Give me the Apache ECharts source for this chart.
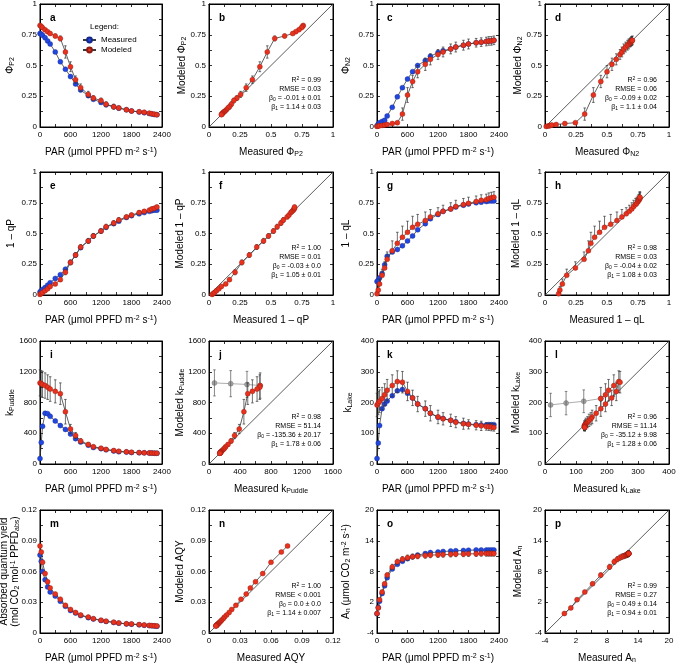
<!DOCTYPE html>
<html><head><meta charset="utf-8">
<script src="https://cdn.jsdelivr.net/npm/echarts@6/dist/echarts.min.js"></script>
<style>html,body{margin:0;padding:0;background:#fff}#c{width:676px;height:666px}</style>
</head><body><div id="c"></div>
<script>
// ---------------- DATA ----------------
const PAR = [0, 25, 50, 100, 150, 200, 300, 400, 500, 600, 700, 800, 950, 1050, 1200, 1300, 1450, 1550, 1700, 1800, 1950, 2050, 2150, 2200, 2250, 2300];

const phiP2Meas = [0.76,0.755,0.745,0.725,0.70,0.675,0.61,0.53,0.47,0.41,0.35,0.30,0.255,0.225,0.20,0.18,0.165,0.153,0.14,0.13,0.122,0.116,0.11,0.106,0.102,0.10];
const phiP2Mod  = [0.826,0.818,0.807,0.79,0.775,0.76,0.74,0.72,0.61,0.49,0.385,0.32,0.265,0.235,0.215,0.185,0.165,0.155,0.14,0.13,0.124,0.12,0.112,0.108,0.104,0.10];
const phiP2Err  = [0.01,0.01,0.01,0.01,0.01,0.01,0.015,0.02,0.05,0.04,0.03,0.03,0.025,0.02,0.02,0.02,0.02,0.015,0.01,0.01,0.01,0.01,0.01,0.008,0.008,0.008];

const phiN2Meas = [0.01,0.025,0.035,0.045,0.055,0.09,0.16,0.245,0.32,0.39,0.45,0.50,0.54,0.575,0.605,0.62,0.635,0.65,0.665,0.675,0.685,0.69,0.695,0.70,0.70,0.705];
const phiN2Mod  = [0.005,0.008,0.01,0.013,0.016,0.02,0.028,0.035,0.105,0.26,0.37,0.45,0.51,0.55,0.59,0.61,0.635,0.65,0.665,0.675,0.685,0.69,0.695,0.70,0.70,0.705];
const phiN2Err  = [0.005,0.005,0.005,0.005,0.005,0.005,0.008,0.01,0.05,0.06,0.05,0.05,0.05,0.045,0.04,0.04,0.04,0.04,0.04,0.04,0.035,0.035,0.035,0.035,0.035,0.035];

const qPMeas = [0.025,0.035,0.045,0.06,0.08,0.10,0.135,0.165,0.21,0.265,0.325,0.385,0.44,0.48,0.52,0.55,0.58,0.60,0.63,0.645,0.66,0.67,0.68,0.685,0.69,0.69];
const qPMod  = [0.005,0.012,0.02,0.035,0.05,0.07,0.09,0.125,0.185,0.265,0.325,0.39,0.44,0.48,0.52,0.555,0.585,0.61,0.635,0.65,0.67,0.68,0.69,0.70,0.705,0.715];
const qPErr  = [0.005,0.005,0.005,0.008,0.01,0.01,0.012,0.015,0.02,0.02,0.02,0.02,0.02,0.02,0.02,0.02,0.02,0.02,0.015,0.015,0.015,0.015,0.015,0.015,0.015,0.015];

const qLMeas = [0.11,0.12,0.14,0.175,0.245,0.315,0.35,0.37,0.40,0.44,0.48,0.53,0.58,0.62,0.655,0.68,0.70,0.715,0.73,0.74,0.75,0.755,0.76,0.765,0.765,0.765];
const qLMod  = [0.01,0.04,0.09,0.16,0.22,0.29,0.36,0.42,0.47,0.51,0.55,0.575,0.605,0.635,0.66,0.68,0.70,0.72,0.735,0.745,0.76,0.77,0.775,0.785,0.79,0.795];
const qLErrUp   = [0.02,0.03,0.04,0.05,0.05,0.06,0.08,0.09,0.09,0.09,0.09,0.08,0.07,0.06,0.05,0.05,0.05,0.05,0.05,0.05,0.045,0.045,0.045,0.045,0.045,0.045];
const qLErrDown = [0,0,0,0,0,0,0,0,0,0,0,0,0,0,0,0,0,0,0,0,0,0,0,0,0,0];

const kPuddleMeas = [70,280,490,660,655,620,560,500,450,390,330,285,245,215,200,185,170,160,155,150,147,145,143,142,141,140];
const kPuddleMod  = [1055,1045,1035,1020,1000,975,945,915,680,455,370,300,255,225,205,190,175,165,158,152,148,145,143,142,141,140];
const kPuddleErr  = [170,170,170,165,160,160,150,140,160,60,40,30,25,20,18,15,15,12,12,10,10,10,10,10,10,10];

const kLakeMeas = [18,68,125,180,195,205,222,238,242,230,215,195,180,165,152,148,142,137,132,130,128,127,127,128,128,128];
const kLakeMod  = [192,198,204,213,225,240,255,268,266,236,215,195,180,165,153,147,142,136,131,129,126,124,122,121,120,119];
const kLakeErr  = [38,38,37,36,36,35,35,35,35,30,25,25,25,25,22,20,20,18,18,15,15,15,12,12,12,12];

const aqyMeas = [0.076,0.070,0.060,0.052,0.045,0.040,0.036,0.031,0.026,0.022,0.0195,0.017,0.015,0.0137,0.0122,0.0113,0.0103,0.0096,0.0089,0.0086,0.008,0.0076,0.0072,0.007,0.0068,0.0066];
const aqyMod  = [0.085,0.079,0.069,0.058,0.050,0.044,0.038,0.033,0.027,0.023,0.020,0.0175,0.0155,0.014,0.0125,0.0115,0.0105,0.0098,0.009,0.0088,0.0082,0.0078,0.0074,0.0072,0.007,0.0068];
const aqyErr  = [0.0008,0.0008,0.0008,0.0006,0.0006,0.0005,0.0005,0.0005,0.0005,0.0004,0.0004,0.0004,0.0003,0.0003,0.0003,0.0003,0.0003,0.0003,0.0003,0.0003,0.0003,0.0003,0.0003,0.0003,0.0003,0.0003];

const anMeas = [-0.25,1.0,2.2,3.7,5.2,6.8,8.5,9.4,10.0,10.5,10.9,11.2,11.5,11.7,11.8,11.9,12.0,12.05,12.1,12.15,12.2,12.2,12.2,12.2,12.2,12.2];
const anMod  = [-0.2,0.9,2.5,4.0,5.6,7.3,8.9,9.9,10.4,10.7,10.9,11.0,11.1,11.2,11.25,11.3,11.35,11.4,11.4,11.45,11.45,11.5,11.5,11.5,11.5,11.5];
const anErr  = [0.3,0.3,0.3,0.3,0.3,0.4,0.5,0.5,0.5,0.5,0.5,0.5,0.5,0.5,0.5,0.5,0.5,0.5,0.5,0.5,0.5,0.5,0.5,0.5,0.5,0.5];

// tick labels
const parTicks = [0, 600, 1200, 1800, 2400];
const unitTicks = [0, 0.25, 0.5, 0.75, 1];
const kPuddleTicks = [0, 400, 800, 1200, 1600];
const kLakeTicks = [0, 100, 200, 300, 400];
const aqyTicks = [0, 0.03, 0.06, 0.09, 0.12];
const anTicks = [-4, 2, 8, 14, 20];

// regression statistics [R2, RMSE, beta0, beta1]
const statsPhiP2   = ['0.99', '= 0.03', '-0.01 ± 0.01', '1.14 ± 0.03'];
const statsPhiN2   = ['0.96', '= 0.06', '-0.09 ± 0.02', '1.1 ± 0.04'];
const statsQP      = ['1.00', '= 0.01', '-0.03 ± 0.0', '1.05 ± 0.01'];
const statsQL      = ['0.98', '= 0.03', '-0.04 ± 0.02', '1.08 ± 0.03'];
const statsKPuddle = ['0.98', '= 51.14', '-135.36 ± 20.17', '1.78 ± 0.06'];
const statsKLake   = ['0.96', '= 11.14', '-35.12 ± 9.98', '1.28 ± 0.06'];
const statsAQY     = ['1.00', '< 0.001', '0.0 ± 0.0', '1.14 ± 0.007'];
const statsAn      = ['0.99', '= 0.27', '0.49 ± 0.14', '0.94 ± 0.01'];

const panelLetters = ['a','b','c','d','e','f','g','h','i','j','k','l','m','n','o','p'];

// ---------------- STYLE / LAYOUT ----------------
const FF = 'Liberation Sans, Arial, Helvetica, sans-serif';
const BLUE = '#2247e0', BLUE_D = '#14288c';
const RED = '#e8321e', RED_D = '#8c1a10';
const GRAY = '#a3a3a3', GRAY_D = '#6e6e6e';
const LINE = '#3a3a3a';
const colLeft = [40, 209, 377, 545];
const colWidth = [122, 124, 122, 124];
const rowTop = [4, 172, 341, 510];
const plotH = 123;

function richOpt(fs, sfs, lh, key) {
  const base = {fontFamily: FF};
  base[key] = '#000';
  return {
    t: Object.assign({fontSize: fs, lineHeight: lh, verticalAlign: 'middle'}, base),
    s: Object.assign({fontSize: sfs, lineHeight: Math.round(sfs * 0.7), verticalAlign: 'bottom'}, base),
    p: Object.assign({fontSize: sfs, lineHeight: Math.round(sfs * 0.7), verticalAlign: 'top'}, base)
  };
}
const RICH10 = richOpt(10, 7, 11, 'color');
const RICHG7 = richOpt(7, 5, 9, 'fill');

const PAR_NAME = '{t|PAR (μmol PPFD m}{p|-2}{t| s}{p|-1}{t|)}';

const VARS = [
  {meas: phiP2Meas, mod: phiP2Mod, up: phiP2Err, dn: phiP2Err, ticks: unitTicks, sym: '{t|Φ}{s|P2}', stats: statsPhiP2, nGray: 0, gaps: [24, 21]},
  {meas: phiN2Meas, mod: phiN2Mod, up: phiN2Err, dn: phiN2Err, ticks: unitTicks, sym: '{t|Φ}{s|N2}', stats: statsPhiN2, nGray: 0, gaps: [25, 21]},
  {meas: qPMeas, mod: qPMod, up: qPErr, dn: qPErr, ticks: unitTicks, sym: '{t|1 – qP}', stats: statsQP, nGray: 0, gaps: [23, 23]},
  {meas: qLMeas, mod: qLMod, up: qLErrUp, dn: qLErrDown, ticks: unitTicks, sym: '{t|1 – qL}', stats: statsQL, nGray: 0, gaps: [25, 23]},
  {meas: kPuddleMeas, mod: kPuddleMod, up: kPuddleErr, dn: kPuddleErr, ticks: kPuddleTicks, sym: '{t|k}{s|Puddle}', stats: statsKPuddle, nGray: 3, gaps: [24, 23]},
  {meas: kLakeMeas, mod: kLakeMod, up: kLakeErr, dn: kLakeErr, ticks: kLakeTicks, sym: '{t|k}{s|Lake}', stats: statsKLake, nGray: 3, gaps: [23, 23]},
  {meas: aqyMeas, mod: aqyMod, up: aqyErr, dn: aqyErr, ticks: aqyTicks, sym: '{t|AQY}',
   lineY: '{t|Absorbed quantum yield}\n{t|(mol CO}{s|2}{t| mol}{p|-1}{t| PPFD}{s|abs}{t|)}', stats: statsAQY, nGray: 0, gaps: [19, 23]},
  {meas: anMeas, mod: anMod, up: anErr, dn: anErr, ticks: anTicks, sym: '{t|A}{s|n}',
   lineY: '{t|A}{s|n}{t| (μmol CO}{s|2}{t| m}{p|-2}{t| s}{p|-1}{t|)}', stats: statsAn, nGray: 0, gaps: [25, 21]}
];

const fmt = v => String(Math.round(v * 1e6) / 1e6);
// major ticks plus half-step minor ticks
function withHalves(t) {
  const out = [];
  t.forEach((v, i) => { out.push(v); if (i < t.length - 1) out.push((v + t[i + 1]) / 2); });
  return out;
}

function axisPair(dim, gi, ticks, name, nameGap) {
  const allTicks = withHalves(ticks);
  const base = {
    type: 'value', gridIndex: gi, min: ticks[0], max: ticks[ticks.length - 1],
    axisLine: {show: true, onZero: false, lineStyle: {color: '#000', width: 1}},
    axisTick: {show: true, inside: true, length: 3, customValues: allTicks, lineStyle: {color: '#000', width: 0.8}},
    splitLine: {show: false}
  };
  const main = Object.assign({}, base, {
    position: dim === 'x' ? 'bottom' : 'left',
    axisLabel: {show: true, customValues: ticks, formatter: fmt, margin: dim === 'x' ? 4 : 3,
      fontSize: 8, fontFamily: FF, color: '#000', showMinLabel: true, showMaxLabel: true, hideOverlap: false},
    name: name, nameLocation: 'middle', nameGap: nameGap, nameMoveOverlap: false,
    nameTextStyle: {fontSize: 10, fontFamily: FF, color: '#000', lineHeight: 11, rich: RICH10}
  });
  const other = Object.assign({}, base, {
    position: dim === 'x' ? 'top' : 'right',
    axisLabel: {show: false}
  });
  return [main, other];
}

function errRender(color) {
  return function (params, api) {
    const x = api.value(0), lo = api.value(1), hi = api.value(2);
    const a = api.coord([x, lo]), b = api.coord([x, hi]);
    const cap = 1.3;
    const st = {stroke: color, lineWidth: 0.7};
    const ch = [{type: 'line', shape: {x1: a[0], y1: a[1], x2: b[0], y2: b[1]}, style: st},
                {type: 'line', shape: {x1: b[0] - cap, y1: b[1], x2: b[0] + cap, y2: b[1]}, style: st}];
    if (api.value(3) > 0) {
      ch.push({type: 'line', shape: {x1: a[0] - cap, y1: a[1], x2: a[0] + cap, y2: a[1]}, style: st});
    }
    return {type: 'group', children: ch};
  };
}

const grids = [], xAxes = [], yAxes = [], series = [], graphics = [];

VARS.forEach((v, vi) => {
  const r = Math.floor(vi / 2);
  for (let k = 0; k < 2; k++) {
    const c = (vi % 2) * 2 + k;
    const gi = r * 4 + c;
    const left = colLeft[c], top = rowTop[r], w = colWidth[c];
    grids.push({left: left, top: top, width: w, height: plotH, show: true, borderColor: '#000', borderWidth: 1,
                backgroundColor: 'transparent', containLabel: false, outerBoundsMode: 'none'});
    const xi = xAxes.length, yi = yAxes.length;
    if (k === 0) {
      xAxes.push(...axisPair('x', gi, parTicks, PAR_NAME, 20));
      yAxes.push(...axisPair('y', gi, v.ticks, v.lineY || v.sym, v.gaps[0]));
      series.push({type: 'line', name: 'Measured', xAxisIndex: xi, yAxisIndex: yi,
        data: PAR.map((p, i) => [p, v.meas[i]]), symbol: 'circle', symbolSize: 5, showSymbol: true,
        itemStyle: {color: BLUE, borderColor: BLUE_D, borderWidth: 0.4}, lineStyle: {color: LINE, width: 0.8}, z: 3});
      series.push({type: 'custom', xAxisIndex: xi, yAxisIndex: yi, silent: true, z: 4,
        data: PAR.map((p, i) => [p, v.mod[i] - v.dn[i], v.mod[i] + v.up[i], v.dn[i]]),
        encode: {x: 0, y: [1, 2]}, renderItem: errRender('#333')});
      series.push({type: 'line', name: 'Modeled', xAxisIndex: xi, yAxisIndex: yi,
        data: PAR.map((p, i) => [p, v.mod[i]]), symbol: 'circle', symbolSize: 5, showSymbol: true,
        itemStyle: {color: RED, borderColor: RED_D, borderWidth: 0.4}, lineStyle: {color: LINE, width: 0.8}, z: 5});
    } else {
      xAxes.push(...axisPair('x', gi, v.ticks, '{t|Measured }' + v.sym, 20));
      yAxes.push(...axisPair('y', gi, v.ticks, '{t|Modeled }' + v.sym, v.gaps[1]));
      const t0 = v.ticks[0], t1 = v.ticks[v.ticks.length - 1];
      series.push({type: 'line', name: 'diag', xAxisIndex: xi, yAxisIndex: yi, data: [[t0, t0], [t1, t1]],
        symbol: 'none', lineStyle: {color: '#333', width: 0.8}, z: 2, silent: true});
      const idx = v.meas.map((_, i) => i);
      if (v.nGray > 0) {
        const gIdx = idx.slice(0, v.nGray + 1);
        series.push({type: 'line', name: 'gray', xAxisIndex: xi, yAxisIndex: yi,
          data: gIdx.map(i => [v.meas[i], v.mod[i]]), symbol: 'circle', symbolSize: 5,
          itemStyle: {color: GRAY, borderColor: GRAY_D, borderWidth: 0.4}, lineStyle: {color: GRAY, width: 0.9}, z: 3});
        series.push({type: 'custom', xAxisIndex: xi, yAxisIndex: yi, silent: true, z: 4,
          data: idx.slice(0, v.nGray).map(i => [v.meas[i], v.mod[i] - v.dn[i], v.mod[i] + v.up[i], v.dn[i]]),
          encode: {x: 0, y: [1, 2]}, renderItem: errRender('#555')});
      }
      const rIdx = idx.slice(v.nGray);
      series.push({type: 'custom', xAxisIndex: xi, yAxisIndex: yi, silent: true, z: 4,
        data: rIdx.map(i => [v.meas[i], v.mod[i] - v.dn[i], v.mod[i] + v.up[i], v.dn[i]]),
        encode: {x: 0, y: [1, 2]}, renderItem: errRender('#333')});
      series.push({type: 'line', name: 'pairs', xAxisIndex: xi, yAxisIndex: yi,
        data: rIdx.map(i => [v.meas[i], v.mod[i]]), symbol: 'circle', symbolSize: 5,
        itemStyle: {color: RED, borderColor: RED_D, borderWidth: 0.4}, lineStyle: {color: LINE, width: 0.8}, z: 5});
      // statistics text
      const sx = left + w - 12;
      const lines = ['{t|R}{p|2}{t| = ' + v.stats[0] + '}', '{t|RMSE ' + v.stats[1] + '}',
                     '{t|β}{s|0}{t| = ' + v.stats[2] + '}', '{t|β}{s|1}{t| = ' + v.stats[3] + '}'];
      lines.forEach((ln, li) => graphics.push({type: 'text', x: sx, y: top + 76.5 + li * 8.7, silent: true,
        style: {text: ln, rich: RICHG7, align: 'right', verticalAlign: 'middle', fontSize: 7, fontFamily: FF, fill: '#000'}}));
    }
    graphics.push({type: 'text', x: left + 10, y: top + 9, silent: true,
      style: {text: panelLetters[gi], align: 'left', verticalAlign: 'top', fontSize: 10, fontWeight: 'bold', fontFamily: FF, fill: '#000'}});
  }
});

graphics.push({type: 'text', x: 90, y: 27, silent: true,
  style: {text: 'Legend:', align: 'left', verticalAlign: 'middle', fontSize: 8, fontFamily: FF, fill: '#000'}});

const chart = echarts.init(document.getElementById('c'), null, {renderer: 'canvas', width: 676, height: 666});
chart.setOption({
  backgroundColor: '#fff',
  animation: false,
  grid: grids, xAxis: xAxes, yAxis: yAxes, series: series, graphic: graphics,
  legend: {data: ['Measured', 'Modeled'], orient: 'vertical', left: 82, top: 35, itemWidth: 13, itemHeight: 6, itemGap: 0,
    padding: 0, selectedMode: false, textStyle: {fontSize: 8, fontFamily: FF, color: '#000', lineHeight: 10}}
});
</script></body></html>
